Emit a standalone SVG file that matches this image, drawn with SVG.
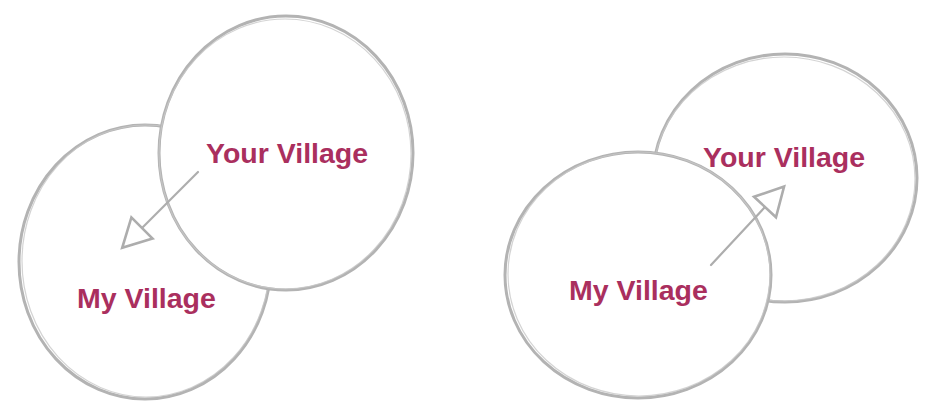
<svg xmlns="http://www.w3.org/2000/svg" width="936" height="410" viewBox="0 0 936 410">
  <style>
    .ring { fill: #ffffff; stroke: #b3b3b3; stroke-width: 3; }
    .ring2 { fill: none; stroke: #c8c8c8; stroke-width: 1.2; opacity: 0.8; }
    .label { font-family: "Liberation Sans", Arial, sans-serif; font-weight: bold; font-size: 28.5px; fill: #AA2F5E; }
    .conn { stroke: #adadad; stroke-width: 2.2; fill: none; stroke-linecap: round; }
  </style>
  <defs>
    <marker id="hollow" markerUnits="userSpaceOnUse" viewBox="-3 -19 34 38" markerWidth="34" markerHeight="38" refX="0" refY="0" orient="auto">
      <path d="M0,-15 L28,0 L0,15 Z" fill="#ffffff" stroke="#adadad" stroke-width="2.6" stroke-linejoin="miter"/>
    </marker>
  </defs>
  <rect width="936" height="410" fill="#ffffff"/>

  <!-- Left diagram -->
  <g id="left-my-village">
    <ellipse class="ring" cx="145" cy="262" rx="126" ry="137"/>
    <ellipse class="ring2" cx="146" cy="261" rx="124" ry="136"/>
    <text class="label" x="77" y="308">My Village</text>
  </g>
  <g id="left-your-village">
    <ellipse class="ring" cx="286" cy="153" rx="127" ry="137"/>
    <ellipse class="ring2" cx="285" cy="154" rx="126" ry="135"/>
    <text class="label" x="206" y="163">Your Village</text>
  </g>

  <!-- Right diagram -->
  <g id="right-your-village">
    <ellipse class="ring" cx="785" cy="178" rx="132" ry="124"/>
    <ellipse class="ring2" cx="784" cy="179" rx="131" ry="122"/>
    <text class="label" x="703" y="167">Your Village</text>
  </g>
  <g id="right-my-village">
    <ellipse class="ring" cx="638" cy="275" rx="133" ry="123"/>
    <ellipse class="ring2" cx="639" cy="274" rx="131" ry="122"/>
    <text class="label" x="569" y="300">My Village</text>
  </g>

  <g id="connectors">
    <line class="conn" x1="198" y1="172" x2="142" y2="228" marker-end="url(#hollow)"/>
    <line class="conn" x1="711" y1="265" x2="765" y2="207" marker-end="url(#hollow)"/>
  </g>
</svg>
